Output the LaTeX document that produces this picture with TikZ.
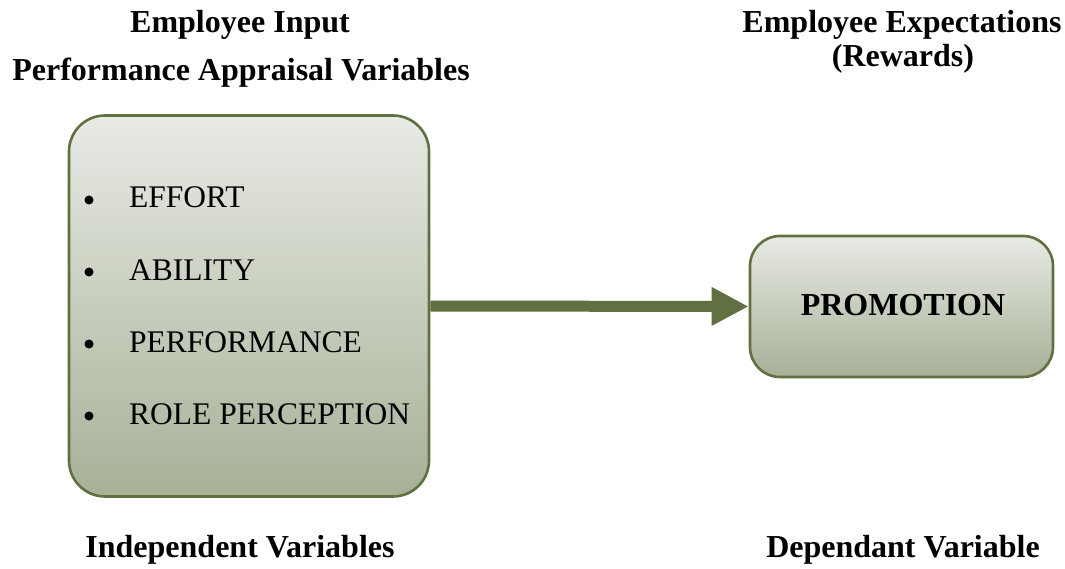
\documentclass[tikz,border=0pt]{standalone}
\usepackage{fontspec}
\setmainfont{Liberation Serif}
\usetikzlibrary{arrows.meta}
\definecolor{olive}{HTML}{607041}
\definecolor{gtop}{HTML}{E8EAE5}
\definecolor{gbot}{HTML}{A6B197}
\tikzset{
  gbox/.style={draw=olive, line width=2.6pt, top color=gtop, bottom color=gbot, inner sep=0pt},
  title/.style={font=\fontsize{32}{35}\selectfont\bfseries, inner sep=0pt, anchor=base},
  item/.style={font=\fontsize{31.5}{35}\selectfont, inner sep=0pt, anchor=base west},
  dot/.style={circle, fill=black, inner sep=0pt, minimum size=9pt}
}
\begin{document}
\begin{tikzpicture}[x=1pt,y=-1pt]
\useasboundingbox (0,0) rectangle (1065,569);
\node[gbox, rounded corners=36pt, minimum width=360pt, minimum height=381pt] (left) at (249,306) {};
\node[gbox, rounded corners=30pt, minimum width=303pt, minimum height=141pt] (right) at (901.5,306.5) {};
\node[title] (prom) at (903,316) {PROMOTION};
\draw[olive, line width=11pt, -{Triangle[length=37pt,width=36pt]}] (left.east) -- (right.west);
\node[title] (t1) at (240,33) {Employee Input};
\node[title] (t2) at (241,81) {Performance Appraisal Variables};
\node[title] (t3) at (902,33) {Employee Expectations};
\node[title] (t4) at (903,67) {(Rewards)};
\node[title] (t5) at (240,557) {Independent Variables};
\node[title] (t6) at (903,557) {Dependant Variable};
\foreach \y/\t [count=\i] in {208/EFFORT,280/ABILITY,352/PERFORMANCE,424/ROLE PERCEPTION}{
  \node[dot] (b\i) at (89,\y-8) {};
  \node[item] (i\i) at (129,\y) {\t};
}
\end{tikzpicture}
\end{document}
